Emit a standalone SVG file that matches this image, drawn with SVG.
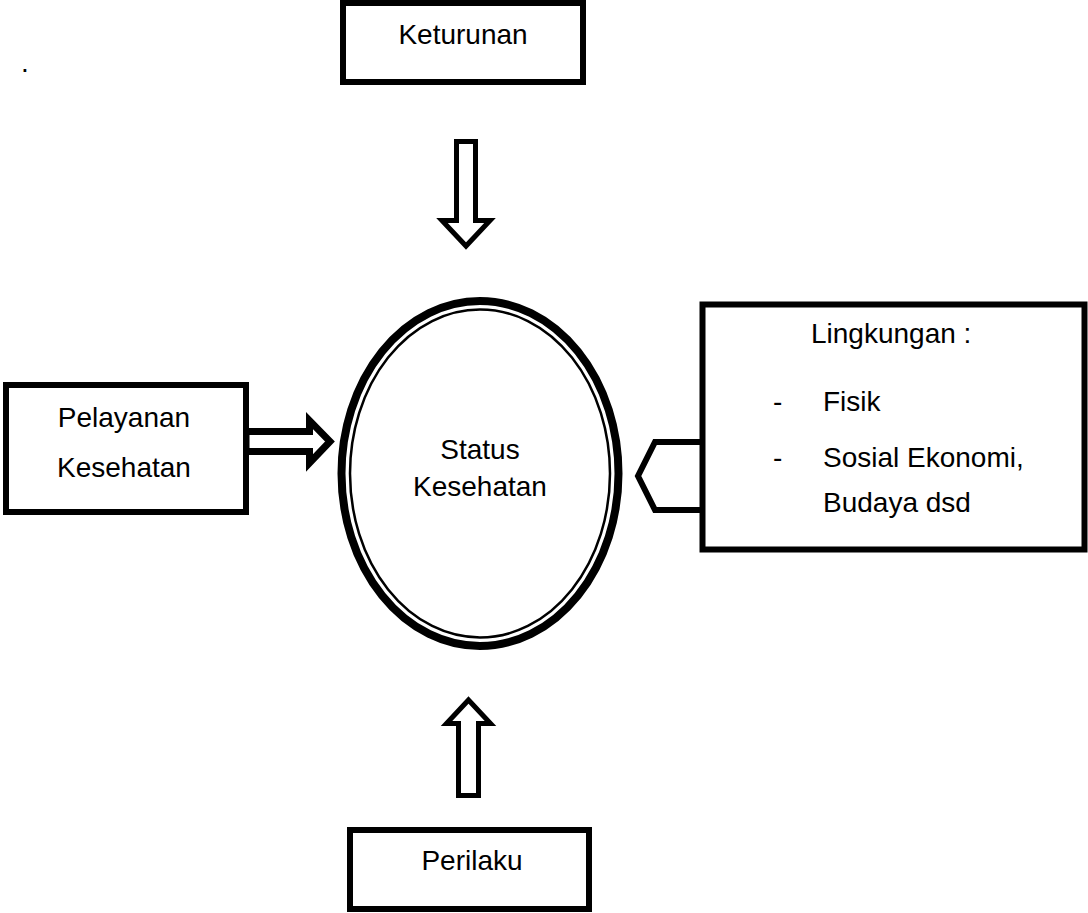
<svg xmlns="http://www.w3.org/2000/svg" width="1088" height="913" viewBox="0 0 1088 913">
<style>
.box{fill:#fff;stroke:#000;stroke-width:6}
.arr{fill:#fff;stroke:#000;stroke-linejoin:miter;stroke-miterlimit:10}
.t{font-family:"Liberation Sans",Arial,sans-serif;font-size:28px;fill:#000}
.c{text-anchor:middle}
</style>
<rect width="1088" height="913" fill="#fff"/>
<text class="t" x="21" y="72">.</text>
<g id="connectors">
<polygon class="arr" stroke-width="5" points="456.5,141.5 475.5,141.5 475.5,220.5 490,220.5 466,246 442,220.5 456.5,220.5"/>
<polygon class="arr" stroke-width="5" points="468.5,700 490.5,723.5 478.5,723.5 478.5,795.5 458.5,795.5 458.5,723.5 446.5,723.5"/>
<polygon class="arr" stroke-width="7" points="246,431.5 309.5,431.5 309.5,420.5 330,441.5 309.5,463 309.5,451.5 246,451.5"/>
<path class="arr" stroke-width="6" d="M702.5,442 L655,442 L638,476 L655,510 L702.5,510"/>
</g>
<g id="keturunan">
<rect class="box" x="343" y="3" width="240" height="79"/>
<text class="t c" x="463" y="44">Keturunan</text>
</g>
<g id="pelayanan">
<rect class="box" x="6" y="385" width="240" height="127"/>
<text class="t c" x="124" y="427">Pelayanan</text>
<text class="t c" x="124" y="477">Kesehatan</text>
</g>
<g id="status">
<ellipse cx="480" cy="473.5" rx="138.5" ry="172.5" fill="#fff" stroke="#000" stroke-width="8"/>
<ellipse cx="480" cy="473.5" rx="130" ry="164" fill="none" stroke="#000" stroke-width="2.5"/>
<text class="t c" x="480" y="459">Status</text>
<text class="t c" x="480" y="496">Kesehatan</text>
</g>
<g id="lingkungan">
<rect class="box" x="702.5" y="304.5" width="382" height="245" stroke-width="7"/>
<text class="t" x="811" y="343">Lingkungan :</text>
<text class="t" x="773" y="411">-</text>
<text class="t" x="823" y="411">Fisik</text>
<text class="t" x="773" y="467">-</text>
<text class="t" x="823" y="467">Sosial Ekonomi,</text>
<text class="t" x="823" y="512">Budaya dsd</text>
</g>
<g id="perilaku">
<rect class="box" x="350" y="830" width="239" height="79"/>
<text class="t c" x="472" y="870">Perilaku</text>
</g>
</svg>
